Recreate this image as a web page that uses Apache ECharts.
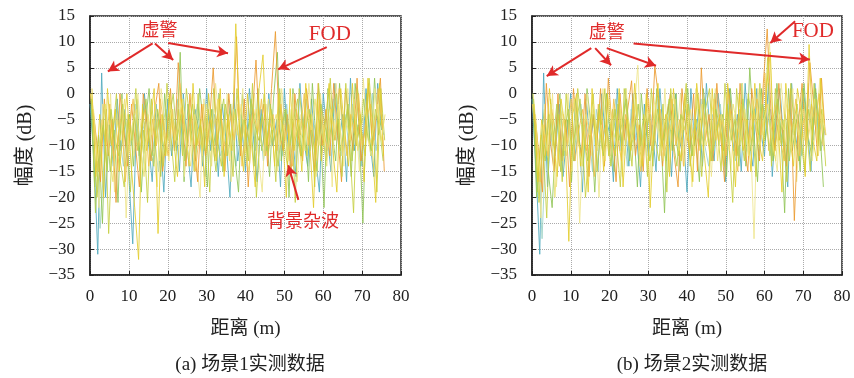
<!DOCTYPE html>
<html>
<head>
<meta charset="utf-8">
<script src="https://cdn.jsdelivr.net/npm/echarts@6/dist/echarts.min.js"></script>
<style>
  html, body { margin: 0; padding: 0; background: #fff; }
  #chart { width: 854px; height: 378px; }
</style>
</head>
<body>
<div id="chart"></div>
<script>
// 距离采样点 (m)
var distance = [0,1,2,3,4,5,6,7,8,9,10,11,12,13,14,15,16,17,18,19,20,21,22,23,24,25,26,27,28,29,30,31,32,33,34,35,36,37,38,39,
    40,41,42,43,44,45,46,47,48,49,50,51,52,53,54,55,56,57,58,59,60,61,62,63,64,65,66,67,68,69,70,71,72,73,74,75];
var xTicks = [0, 10, 20, 30, 40, 50, 60, 70, 80];
var yTicks = [-35, -30, -25, -20, -15, -10, -5, 0, 5, 10, 15];

// 场景1 各帧幅度 (dB)
var scene1Frame1 = [-2,-12,-31,4,-20,-6,-14,-1,-11,-3,-16,-29,-4,-13,0,-9,-17,-2,-8,-19,-1,-12,-5,-15,0,-10,-18,-3,-7,-14,
    1,-11,-4,-16,-2,-9,-20,0,-13,-6,-15,1,-8,-17,-3,-12,0,-10,-5,-18,1,-11,-7,-16,2,-9,-14,-1,-12,-19,
    0,-8,-15,2,-10,-4,-17,3,-11,-6,-14,1,-9,-16,2,-7];
var scene1Frame2 = [0,-18,-8,-25,-3,-15,-7,-21,0,-10,-4,-14,-1,-19,-6,1,-12,-5,-16,0,-9,-3,-11,8,-17,-2,-8,-13,1,-6,
    -18,-3,-10,0,-15,-7,-2,-12,-19,0,-9,-4,-14,1,-11,-6,-16,-1,8,-13,-3,-20,1,-8,-12,-4,-17,2,-10,-5,
    -22,1,-7,-13,2,-9,-3,-16,2,-6,-25,0,-12,3,-8,-4];
var scene1Frame3 = [0,-6,-22,-2,-14,0,-19,-8,-1,-24,-5,-12,0,-9,-15,-2,-11,-18,1,-7,-13,-3,-10,1,-16,-5,0,-12,-20,-1,
    -8,-14,2,-6,-11,0,-17,-4,-9,1,-14,-7,0,-12,-19,-2,-10,-5,-15,1,-8,-13,0,-17,-4,-11,2,-7,-16,0,
    -10,-3,-18,2,-6,-14,1,-9,-4,-15,3,-8,-12,1,-6,-10];
var scene1Frame4 = [1,-16,-4,-20,1,-10,-3,-15,-8,0,-13,-22,-32,-2,-11,-6,1,-27,-4,-12,0,-9,-16,-1,-7,-14,2,-10,-5,-18,
    0,-8,-13,1,-16,-4,-11,13.5,-6,-15,0,-9,-18,1,7.5,-10,-3,-14,0,-7,-20,1,-11,-5,-15,2,-9,-22,0,-13,
    -6,2,-11,-19,1,-7,-14,2,-10,-4,-17,3,-9,-21,2,-12];
var scene1Frame5 = [-3,-9,-17,-1,-12,-5,-21,0,-7,-14,-2,-10,-18,0,-6,-13,-3,2,-15,-8,1,-11,6,-4,-14,0,-9,-17,-2,-12,
    -6,5,-10,-3,-15,0,-8,11,-12,-1,-18,-5,6.5,-9,-2,-14,1,12,-7,-11,-4,-16,0,-9,-13,1,-6,-15,2,-10,
    -3,-12,2,-8,-17,1,-5,-11,3,-13,-7,2,-10,-4,3,-15];
var scene1Frame6 = [-5,-20,-11,-2,-27,-8,0,-13,-18,-4,-9,1,-15,-7,-21,-1,-10,-5,-14,2,-8,-17,-3,-12,1,-6,-15,0,-11,-4,
    -19,1,-9,-14,-2,-7,-16,1,-10,-5,-13,2,-20,-8,0,-12,-6,-17,1,-9,-14,-3,-21,1,-7,-12,-4,-18,2,-8,
    -13,3,-9,-5,-16,2,-10,-23,1,-7,-12,3,-6,-19,1,-9];
var scene1Frame7 = [-4,-9,-26,-13,-6,-11,-3,-8,-14,-5,-10,-2,-12,-7,-4,-13,-9,-15,-6,-3,-11,-7,-1,-9,-13,-4,-8,-2,-10,-16,
    -6,-3,-9,-12,-5,-1,-8,-14,-4,-10,-7,-2,-11,-5,-13,-8,-3,-9,-6,-12,-2,-10,-15,-4,-7,-1,-11,-6,-9,-3,
    -13,-5,-1,-8,-12,-4,-10,-2,-7,-14,-3,-9,0,-11,-5,-8];
var scene1Frame8 = [0,-7,-15,-5,-10,-2,-13,-9,-4,-17,-6,-1,-11,-8,-3,-14,-5,-10,-1,-7,-12,-4,-9,2,-6,-11,-3,-15,-8,-2,
    -10,-5,-13,-1,-7,-12,-4,-9,-2,-14,-6,-10,-3,-8,-1,-12,-7,-4,-11,-2,-9,-6,-14,-3,-8,0,-10,-5,-13,-1,
    -7,-11,-3,-9,1,-6,-12,-4,-8,0,-10,-5,-2,-9,1,-6];
var scene1Frame9 = [-1,-23,-10,-6,-15,-3,-9,-12,-2,-7,-19,-4,-11,-6,-1,-10,-14,-3,-8,-12,-5,0,-9,-4,-13,-7,-2,-10,-6,-11,
    -3,-8,-15,-5,-1,-12,-7,-3,-10,-5,-13,-1,-6,-9,-4,-11,-2,-8,-14,-6,-3,-10,-5,-1,-12,-7,-3,-9,-15,-2,
    -6,-10,-4,0,-11,-7,-2,-13,-5,-9,-1,-8,-11,-3,-6,-13];
var scene1Frame10 = [-3,-13,-7,-2,-11,-17,-5,-9,-1,-12,-6,-3,-10,-16,-4,-8,-2,-13,-7,-11,-3,-9,-5,-1,-10,-14,-4,-7,-12,-2,
    -9,-6,-1,-11,-5,-13,-3,-8,-2,-10,-15,-6,-3,-9,-12,-1,-7,-4,-10,-6,-13,-2,-8,-5,-11,-3,-7,-1,-10,-6,
    -14,-3,-8,-2,-12,-5,-9,-1,-11,-6,-3,-10,-7,-2,-9,-4];

// 场景2 各帧幅度 (dB)
var scene2Frame1 = [-1,-14,-31,4,-18,-5,-12,-2,-16,-8,0,-13,-6,-19,-1,-10,-4,-15,0,-9,-6,-17,1,-11,-5,-14,0,-8,-18,-2,
    -12,-6,-15,1,-9,-4,-16,0,-11,-7,-19,1,-10,-3,-14,2,-8,-13,0,-6,-17,1,-11,-4,-15,2,-9,-14,1,-7,
    -12,2,-16,-5,1,-10,-18,2,-8,-13,1,-6,-15,2,-9,-4];
var scene2Frame2 = [0,-20,-10,-3,-15,-22,-7,0,-12,-5,-17,-1,-9,-14,1,-6,-19,-3,-11,0,-8,-15,-2,-10,1,-13,-6,-18,0,-9,
    -4,-14,1,-7,-23,-2,-11,0,-15,-5,1,-12,-8,-17,1,-6,-13,0,-10,-4,-16,1,-8,-12,2,-14,5,-7,-17,1,
    -9,-3,-13,2,-7,-23,1,-11,-5,-15,2,-8,-12,1,-6,-18];
var scene2Frame3 = [0,-8,-24,-2,-13,0,-18,-6,-11,0,-15,-3,-25,-7,0,-12,-5,-20,1,-9,-14,-2,-7,-16,1,-10,-4,5.5,-13,-8,
    -19,0,-6,-12,1,-15,-3,-9,0,-14,-6,-18,1,-8,-11,-3,-16,1,-7,-12,0,-15,-4,-10,2,-13,-6,-28,1,-8,
    -3,10,-10,-15,2,-6,-12,1,-17,-4,-9,2,-13,-6,3,-11];
var scene2Frame4 = [-2,-17,-5,-12,1,-9,-16,-1,-7,-28.5,-4,0,-14,-6,-19,1,-10,-3,-15,0,-8,-12,1,-18,-5,-11,2,-9,-14,0,
    -22,-6,2,-11,-4,-16,1,-8,-13,0,-10,-17,2,-5,-12,-20,1,-9,-4,-14,2,-7,-18,0,-11,-5,-15,2,-9,-13,
    1,8,-12,-6,-19,2,-8,-14,1,-4,-16,9.5,-9,-13,3,-7];
var scene2Frame5 = [-4,-11,-19,2,-9,-15,0,-13,-5,-18,1,-8,-12,0,-16,-4,-10,1,-14,3,-7,-17,0,-9,-3,2.5,-12,-6,-15,1,
    -10,5.3,-1,-14,-5,0,-12,-18,1,-7,-11,0,-15,5,-9,-4,-13,2,-8,-17,1,-5,-12,2,-9,-15,1,-6,-13,2,
    12.5,-4,-11,2,-8,-14,1,-24.5,-6,2,-10,6,-2,-12,3,-8];
var scene2Frame6 = [-6,-21,-9,-24,-1,-11,-4,-17,0,-8,-13,1,-6,-20,-10,0,-15,-7,1,-12,-3,-9,-18,1,-6,-14,0,-11,-4,-16,
    1,-9,-13,-2,-19,1,-7,-12,-5,2,-14,-8,0,-16,-3,1,-11,-6,-15,2,-9,-21,1,-7,-13,0,-5,-16,2,-10,
    7,-14,1,-9,-5,-17,2,-8,-13,1,-6,-15,2,-10,-3,-14];
var scene2Frame7 = [-3,-12,-28,-9,-5,-14,-2,-8,-11,-4,-13,-7,-2,-10,-6,-15,-3,-9,-12,-5,-8,-1,-11,-6,-14,-3,-9,-2,-12,-7,
    -4,-10,-1,-8,-13,-5,-2,-11,-7,-3,-12,-6,-9,-1,-10,-14,-4,-7,-2,-11,-5,-9,-13,-3,-8,-1,-10,-6,-12,-2,
    -7,-3,-11,-5,-9,-14,-2,-8,-4,-12,-6,-1,-9,-5,-11,-7];
var scene2Frame8 = [-2,-9,-17,-6,-12,-3,-8,-14,-4,-10,-1,-13,-7,-3,-11,-5,-16,-2,-9,-6,-12,-1,-8,-13,-4,-10,-2,-7,-15,-5,
    -1,-11,-6,-3,-12,-8,-1,-10,-5,-14,-2,-9,-6,-11,-3,-7,-13,-1,-9,-5,-12,-3,-8,-15,-2,-6,-10,-4,-1,-8,
    4,-11,-5,-2,-9,-13,-3,-7,-1,-12,-5,-9,-2,-6,0,-10];
var scene2Frame9 = [-1,-19,-8,-13,-4,-10,-2,-15,-7,-3,-11,-6,-1,-9,-13,-4,-8,-2,-12,-6,-14,-3,-9,-5,-1,-11,-7,-2,-10,-4,
    -13,-8,-3,-11,-6,-1,-9,-14,-4,-7,-2,-12,-5,-10,-1,-8,-13,-3,-6,-11,-2,-9,-5,-14,-1,-7,-11,-3,-8,-2,
    -5,-12,-7,-1,-10,-4,-13,-6,-2,-9,-15,-3,-8,-1,-11,-6];
var scene2Frame10 = [-4,-15,-6,-11,-2,-20,-8,-3,-12,-6,-1,-9,-14,-4,-8,-2,-11,-6,-13,-1,-7,-10,-3,-12,-5,-9,-1,-14,-6,-3,
    -10,-2,-8,-13,-4,-7,-1,-11,-5,-9,-3,-12,-6,-2,-10,-7,-1,-13,-4,-8,-11,-2,-6,-9,-3,-12,-1,-7,-10,-5,
    -2,-9,-13,-4,-7,-1,-11,-5,-8,-3,-10,-6,-1,-12,-4,-8];

// 标注 [起点x, 起点y, 终点x, 终点y]
var arrows1 = [[16.1, 9.7, 4.6, 4.3], [16.7, 9.7, 21.4, 6.5], [20.1, 9.8, 35.5, 7.8],
    [60.9, 9.0, 48.4, 4.7], [53.6, -20.5, 51.0, -13.8]];
var labels1 = [['虚警', 17.9, 12.0], ['FOD', 61.7, 11.4], ['背景杂波', 54.8, -24.9]];
var arrows2 = [[15.3, 8.8, 3.8, 3.4], [16.3, 8.8, 20.4, 5.5], [19.3, 8.8, 32.0, 5.4],
    [26.2, 9.7, 71.7, 6.6], [67.9, 14.0, 61.5, 9.8]];
var labels2 = [['虚警', 19.3, 11.6], ['FOD', 72.5, 12.0]];

// 绘制顺序 (底 -> 顶)
var scene1 = [scene1Frame1, scene1Frame7, scene1Frame2, scene1Frame3, scene1Frame5,
    scene1Frame6, scene1Frame8, scene1Frame9, scene1Frame4, scene1Frame10];
var scene2 = [scene2Frame1, scene2Frame7, scene2Frame2, scene2Frame3, scene2Frame5,
    scene2Frame6, scene2Frame8, scene2Frame9, scene2Frame4, scene2Frame10];
// 各帧的距离偏移 (m)
var frameShift = [0, 0.6, 0.2, 0.3, 0.7, 0.8, 0.1, 0.4, 0.5, 0.9];
var frameColors = ['#4fa9bd', '#9ed2c6', '#8fc455', '#efe58c', '#eb9a2e',
    '#c6cf3f', '#f2c14a', '#b4cf4a', '#e3cc2c', '#ece070'];

var serif = '"Liberation Serif", "Noto Sans CJK SC", serif';
var red = '#e02a2a';

function minus(v) {
    return String(v).replace('-', '\u2212');
}

function buildFrames(frames, gridIdx) {
    let out = [];
    frames.forEach(function (vals, k) {
        let pts = [];
        for (let i = 0; i < distance.length; i++) {
            pts.push([distance[i] + frameShift[k], vals[i]]);
        }
        out.push({
            type: 'line',
            xAxisIndex: gridIdx,
            yAxisIndex: gridIdx,
            data: pts,
            showSymbol: false,
            silent: true,
            lineStyle: { width: 1, color: frameColors[k], opacity: 0.85 }
        });
    });
    return out;
}

function buildNotes(arrows, labels, gridIdx) {
    return {
        type: 'line',
        xAxisIndex: gridIdx,
        yAxisIndex: gridIdx,
        data: [],
        silent: true,
        markLine: {
            silent: true,
            symbol: ['none', 'arrow'],
            symbolSize: [9, 11],
            label: { show: false },
            lineStyle: { color: red, width: 2, type: 'solid' },
            data: arrows.map(function (a) {
                return [{ coord: [a[0], a[1]] }, { coord: [a[2], a[3]] }];
            })
        },
        markPoint: {
            silent: true,
            symbol: 'circle',
            symbolSize: 0,
            label: {
                show: true,
                position: 'inside',
                color: red,
                fontFamily: serif,
                fontSize: 18,
                formatter: '{b}'
            },
            data: labels.map(function (l) {
                return {
                    name: l[0],
                    coord: [l[1], l[2]],
                    label: { fontSize: l[0] === 'FOD' ? 21 : 18 }
                };
            })
        }
    };
}

function xAxisOf(gridIdx) {
    return {
        gridIndex: gridIdx,
        type: 'value',
        min: xTicks[0],
        max: xTicks[xTicks.length - 1],
        interval: 10,
        name: '距离 (m)',
        nameLocation: 'middle',
        nameGap: 45,
        nameTextStyle: { fontFamily: serif, fontSize: 19, color: '#222' },
        axisLine: { show: true, onZero: false, lineStyle: { color: '#222', width: 1.5 } },
        axisTick: { show: true, inside: true, length: 4, lineStyle: { color: '#222' } },
        axisLabel: { fontFamily: serif, fontSize: 17, color: '#222', margin: 13 },
        splitLine: { show: true, lineStyle: { color: '#aaa', type: 'dotted', width: 1 } }
    };
}

function yAxisOf(gridIdx) {
    return {
        gridIndex: gridIdx,
        type: 'value',
        min: yTicks[0],
        max: yTicks[yTicks.length - 1],
        interval: 5,
        name: '幅度 (dB)',
        nameLocation: 'middle',
        nameGap: 54,
        nameRotate: 90,
        nameTextStyle: { fontFamily: serif, fontSize: 20, color: '#222' },
        axisLine: { show: true, onZero: false, lineStyle: { color: '#222', width: 1.5 } },
        axisTick: { show: true, inside: true, length: 4, lineStyle: { color: '#222' } },
        axisLabel: { fontFamily: serif, fontSize: 17, color: '#222', margin: 15, formatter: minus },
        splitLine: { show: true, lineStyle: { color: '#aaa', type: 'dotted', width: 1 } }
    };
}

var myChart = echarts.init(document.getElementById('chart'));
var option = {
    animation: false,
    backgroundColor: '#fff',
    title: [{
        text: '(a) 场景1实测数据',
        left: 245, top: 351, textAlign: 'center',
        textStyle: { fontFamily: serif, fontSize: 19, fontWeight: 'normal', color: '#222' }
    }, {
        text: '(b) 场景2实测数据',
        left: 687, top: 351, textAlign: 'center',
        textStyle: { fontFamily: serif, fontSize: 19, fontWeight: 'normal', color: '#222' }
    }],
    grid: [
        { left: 90, top: 16, width: 311, height: 259, show: true, borderColor: '#222', borderWidth: 1.5, backgroundColor: 'transparent' },
        { left: 532, top: 16, width: 310, height: 259, show: true, borderColor: '#222', borderWidth: 1.5, backgroundColor: 'transparent' }
    ],
    xAxis: [xAxisOf(0), xAxisOf(1)],
    yAxis: [yAxisOf(0), yAxisOf(1)],
    series: buildFrames(scene1, 0)
        .concat(buildFrames(scene2, 1))
        .concat([buildNotes(arrows1, labels1, 0), buildNotes(arrows2, labels2, 1)])
};
myChart.setOption(option, true);
</script>
</body>
</html>
